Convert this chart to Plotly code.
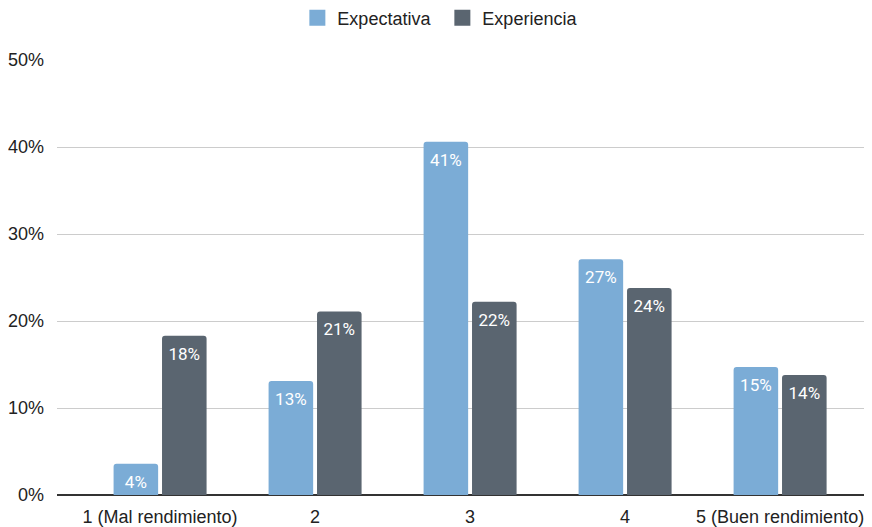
import plotly.graph_objects as go

categories = ["1 (Mal rendimiento)", "2", "3", "4", "5 (Buen rendimiento)"]
expectativa = [3.6, 13.1, 40.6, 27.1, 14.7]
experiencia = [18.3, 21.1, 22.2, 23.8, 13.8]
series_names = ["Expectativa", "Experiencia"]
colors = ["#7bacd6", "#5a6570"]
y_ticks = [0, 10, 20, 30, 40, 50]
label_drop = 1.3  # label sits this far (in % units) below the bar top

fig = go.Figure()
for i, (name, vals, col) in enumerate(zip(series_names, [expectativa, experiencia], colors)):
    fig.add_trace(go.Bar(
        name=name, x=categories, y=vals, offsetgroup=str(i),
        marker=dict(color=col, cornerradius=3, line=dict(width=0)),
        hoverinfo="skip", showlegend=False,
    ))
for i, vals in enumerate([expectativa, experiencia]):
    fig.add_trace(go.Scatter(
        x=categories, y=[v - label_drop for v in vals], offsetgroup=str(i),
        mode="text", text=[f"{v:.0f}%" for v in vals], textposition="bottom center",
        textfont=dict(color="white", size=17, family="Roboto"),
        showlegend=False, cliponaxis=False, hoverinfo="skip",
    ))
# legend entries with larger square swatches
for name, col in zip(series_names, colors):
    fig.add_trace(go.Scatter(
        x=[None], y=[None], mode="markers", name=name,
        marker=dict(symbol="square", size=16, color=col, line=dict(width=0)),
        showlegend=True,
    ))

fig.update_layout(
    width=864, height=519,
    margin=dict(l=49, r=2, t=52, b=32, autoexpand=False),
    paper_bgcolor="white", plot_bgcolor="white",
    barmode="group", bargap=0.375, bargroupgap=0.08,
    scattermode="group", scattergap=0.375,
    font=dict(family="Liberation Sans", size=18, color="#222222"),
    legend=dict(orientation="h", x=0.474, xanchor="center", y=1.0966, yanchor="middle",
                font=dict(family="Liberation Sans", size=18, color="#222222"),
                traceorder="normal", entrywidth=100, itemsizing="trace"),
    showlegend=True,
)
fig.update_xaxes(range=[-0.665, 4.58], showgrid=False, ticks="", showline=False,
                 automargin=False, tickfont=dict(size=18, color="#222222"),
                 ticklabelstandoff=9)
fig.update_yaxes(range=[0, 50], tickvals=y_ticks, ticktext=[f"{v}%" for v in y_ticks],
                 showgrid=True, gridcolor="#cccccc", gridwidth=1,
                 zeroline=True, zerolinecolor="#333333", zerolinewidth=1.5,
                 automargin=False, ticks="", tickfont=dict(size=18, color="#222222"),
                 ticklabelstandoff=12)

fig.write_html("out.html")
